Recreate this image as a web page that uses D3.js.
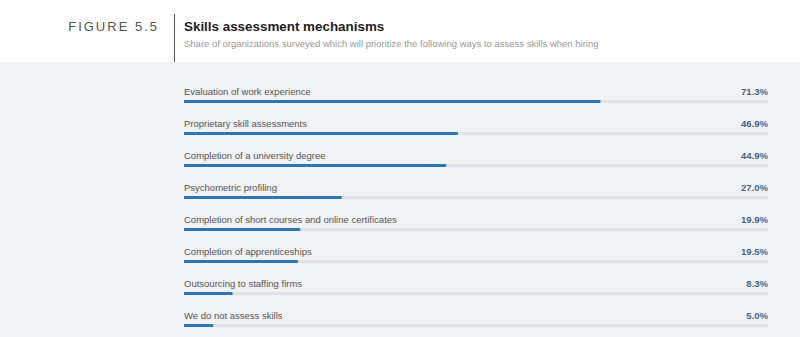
<!DOCTYPE html>
<html>
<head>
<meta charset="utf-8">
<script src="https://cdn.jsdelivr.net/npm/d3@7"></script>
<style>
  html, body { margin: 0; padding: 0; background: #fff; }
  svg { display: block; font-family: "Liberation Sans", Arial, sans-serif; }
</style>
</head>
<body>
<svg width="800" height="337"></svg>
<script>
const categories = [
  "Evaluation of work experience",
  "Proprietary skill assessments",
  "Completion of a university degree",
  "Psychometric profiling",
  "Completion of short courses and online certificates",
  "Completion of apprenticeships",
  "Outsourcing to staffing firms",
  "We do not assess skills"
];
const values = [71.3, 46.9, 44.9, 27.0, 19.9, 19.5, 8.3, 5.0];

const svg = d3.select("svg");
const width = 800, height = 337;

// header
svg.append("rect").attr("width", width).attr("height", 62).attr("fill", "#fff");
svg.append("rect").attr("y", 62).attr("width", width).attr("height", height - 62).attr("fill", "#f1f2f4");

svg.append("line")
  .attr("x1", 174.5).attr("x2", 174.5).attr("y1", 14).attr("y2", 62)
  .attr("stroke", "#555").attr("stroke-width", 1);

svg.append("text")
  .attr("x", 159).attr("y", 31)
  .attr("text-anchor", "end")
  .attr("font-size", 13)
  .attr("letter-spacing", 2)
  .attr("fill", "#555")
  .text("FIGURE 5.5");

svg.append("text")
  .attr("x", 184).attr("y", 30.5)
  .attr("font-size", 13.4)
  .attr("font-weight", "bold")
  .attr("fill", "#222")
  .text("Skills assessment mechanisms");

svg.append("text")
  .attr("x", 184).attr("y", 47)
  .attr("font-size", 9.5)
  .attr("fill", "#999")
  .text("Share of organizations surveyed which will prioritize the following ways to assess skills when hiring");

// bars
const x = d3.scaleLinear().domain([0, 100]).range([184, 768]);
const y = d3.scaleBand().domain(categories).range([80, 336]).paddingInner(0);

const row = svg.selectAll(".row")
  .data(categories.map((c, i) => ({ name: c, value: values[i] })))
  .enter().append("g")
  .attr("class", "row")
  .attr("transform", d => `translate(0, ${y(d.name)})`);

row.append("rect")
  .attr("x", x(0)).attr("y", 20)
  .attr("width", x(100) - x(0)).attr("height", 3)
  .attr("fill", "#dfe3e8");

row.append("rect")
  .attr("x", x(0)).attr("y", 20)
  .attr("width", d => x(d.value) - x(0)).attr("height", 3)
  .attr("fill", "#2b78b3");

row.append("text")
  .attr("x", x(0)).attr("y", 15)
  .attr("font-size", 9.5)
  .attr("fill", "#555")
  .text(d => d.name);

row.append("text")
  .attr("x", x(100)).attr("y", 15)
  .attr("text-anchor", "end")
  .attr("font-size", 9.5)
  .attr("font-weight", "bold")
  .attr("fill", "#44628a")
  .text(d => d.value.toFixed(1) + "%");
</script>
</body>
</html>
